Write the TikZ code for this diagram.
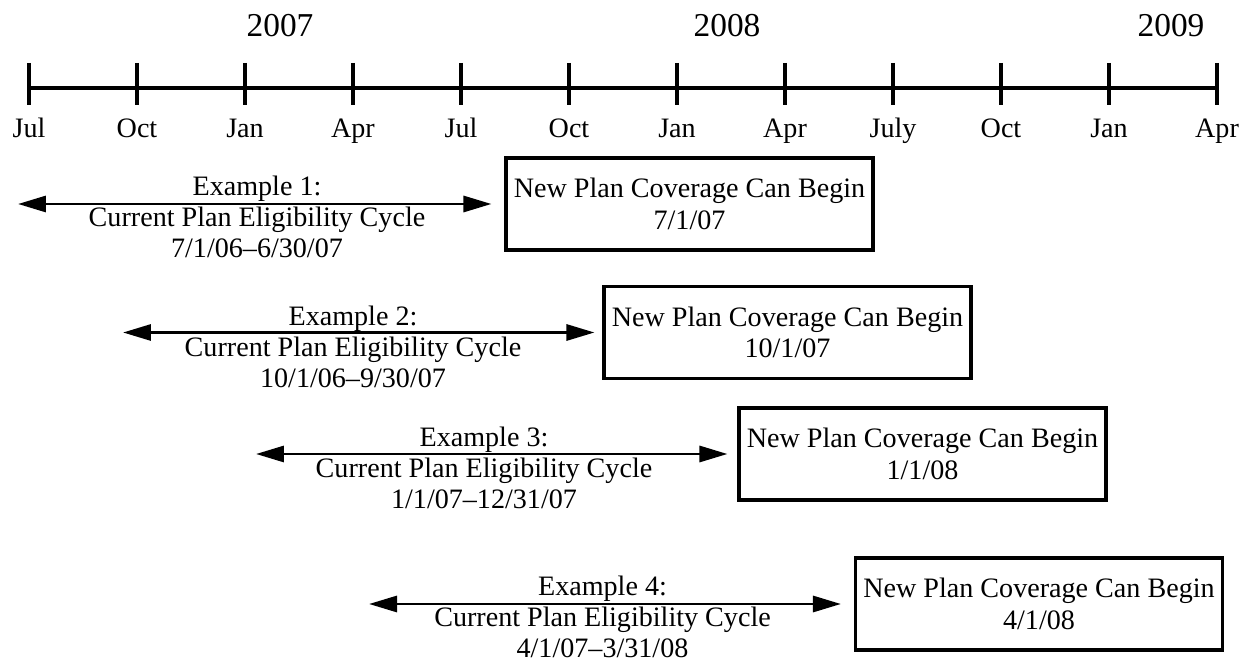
\documentclass[tikz,border=0pt]{standalone}
\usepackage{fontspec}
\setmainfont{Liberation Serif}
\usetikzlibrary{arrows.meta,positioning}
\tikzset{%
	month/.style      = {anchor=base, font=\fontsize{16}{17}\selectfont},
	year/.style       = {anchor=base, font=\fontsize{19}{21}\selectfont},
	coverage/.style   = {draw, rectangle, line width=1.8pt, minimum width=7.34cm, minimum height=1.84cm, align=center, inner sep=0pt, font=\fontsize{16}{18}\selectfont},
	cyclelabel/.style = {align=center, inner sep=0pt, font=\fontsize{16}{17.5}\selectfont},
	arrow/.style      = {line width=1.7pt, {Triangle[length=5.6mm,width=3.2mm]}-{Triangle[length=5.6mm,width=3.2mm]}},
	axis/.style       = {line width=1.8pt},
}

\begin{document}
\begin{tikzpicture}[x=0.02cm,y=-0.02cm]
	\useasboundingbox (0,0) rectangle (1247,661);
	
	\draw[axis] (29,88) -- (1217,88);
	\foreach \m [count=\i from 0] in {Jul,Oct,Jan,Apr,Jul,Oct,Jan,Apr,July,Oct,Jan,Apr} {
		\draw[axis] ({29+108*\i},63) -- ({29+108*\i},105);
		\node[month] (m\i) at ({29+108*\i},138) {\m};
	}
	
	\node[year] (y7) at (280,37) {2007};
	\node[year] (y8) at (727,37) {2008};
	\node[year] (y9) at (1171,37) {2009};
	
	\node[coverage] (b1) at (689.5,204) {New Plan Coverage Can Begin\\7/1/07};
	\node[coverage] (b2) at (787.5,332.5) {New Plan Coverage Can Begin\\10/1/07};
	\node[coverage] (b3) at (922.5,454) {New Plan Coverage Can Begin\\1/1/08};
	\node[coverage] (b4) at (1039,604) {New Plan Coverage Can Begin\\4/1/08};
	
	\coordinate (s1) at (18,204);
	\coordinate (s2) at (123,332.5);
	\coordinate (s3) at (256,454);
	\coordinate (s4) at (369,604);
	
	\draw[arrow, shorten >=0.26cm] (s1) -- (b1);
	\draw[arrow, shorten >=0.16cm] (s2) -- (b2);
	\draw[arrow, shorten >=0.2cm] (s3) -- (b3);
	\draw[arrow, shorten >=0.26cm] (s4) -- (b4);
	
	\node[cyclelabel] (l1) at (257,217) {Example 1:\\Current Plan Eligibility Cycle\\7/1/06–6/30/07};
	\node[cyclelabel] (l2) at (353,347) {Example 2:\\Current Plan Eligibility Cycle\\10/1/06–9/30/07};
	\node[cyclelabel] (l3) at (484,468) {Example 3:\\Current Plan Eligibility Cycle\\1/1/07–12/31/07};
	\node[cyclelabel] (l4) at (602.5,617) {Example 4:\\Current Plan Eligibility Cycle\\4/1/07–3/31/08};
\end{tikzpicture}
\end{document}
